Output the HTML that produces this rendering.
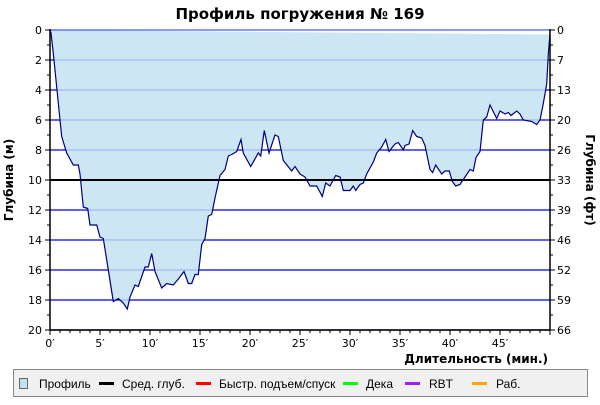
<!DOCTYPE html>
<html><head><meta charset="utf-8"><style>
body{margin:0;background:#fff;font-family:"Liberation Sans","DejaVu Sans",sans-serif}
svg text{font-family:"DejaVu Sans","Liberation Sans",sans-serif}
svg .lg{font-family:"Liberation Sans","DejaVu Sans",sans-serif}
</style></head><body>
<svg id="c" width="600" height="400" xmlns="http://www.w3.org/2000/svg">
<rect width="600" height="400" fill="#fff"/>
<text x="300" y="19" text-anchor="middle" font-size="15" font-weight="bold">Профиль погружения № 169</text>
<text transform="translate(13,180) rotate(-90)" text-anchor="middle" font-size="12" font-weight="bold">Глубина (м)</text>
<text transform="translate(586,180) rotate(90)" text-anchor="middle" font-size="12" font-weight="bold">Глубина (фт)</text>
<text x="548" y="363" text-anchor="end" font-size="12" font-weight="bold">Длительность (мин.)</text>
<g id="grid"></g><g id="area"></g><g id="axes"></g>
<g>
<rect x="13.5" y="369.5" width="574" height="27" fill="#f0f0f0" stroke="#888"/>
<rect x="19.5" y="378.5" width="8" height="10" fill="#c2e0f0" stroke="#666"/>
<text class="lg" x="39" y="388" font-size="12">Профиль</text>
<rect x="99" y="382" width="15" height="3" fill="#000"/>
<text class="lg" x="122" y="388" font-size="12">Сред. глуб.</text>
<rect x="196" y="382" width="15" height="3" fill="#f00"/>
<text class="lg" x="219" y="388" font-size="12">Быстр. подъем/спуск</text>
<rect x="343" y="382" width="15" height="3" fill="#0f0"/>
<text class="lg" x="366" y="388" font-size="12">Дека</text>
<rect x="405" y="382" width="15" height="3" fill="#a020f0"/>
<text class="lg" x="429" y="388" font-size="12">RBT</text>
<rect x="472" y="382" width="15" height="3" fill="#ffa500"/>
<text class="lg" x="496" y="388" font-size="12">Раб.</text>
</g>
</svg>
<script>
const times=[0,0.1,0.33,0.67,1.0,1.17,1.67,2.33,2.83,3.0,3.33,3.77,4.0,4.67,5.0,5.33,5.83,6.33,6.83,7.33,7.73,8.0,8.5,8.83,9.5,9.83,10.17,10.5,11.17,11.67,12.33,12.83,13.4,13.83,14.17,14.5,14.83,15.17,15.5,15.83,16.17,16.5,17.0,17.5,17.83,18.17,18.67,19.1,19.33,20.07,20.83,21.07,21.43,21.9,22.5,22.83,23.33,24.17,24.5,25.0,25.5,26,26.67,27.23,27.57,28,28.57,29,29.33,30,30.33,30.57,31,31.33,31.67,32.33,32.67,33.17,33.57,33.9,34.5,34.83,35.33,35.5,35.9,36.27,36.67,37.17,37.5,38,38.27,38.57,39.17,39.5,39.93,40.23,40.57,41,41.5,42,42.33,42.6,43,43.33,43.67,44,44.67,45,45.5,45.83,46.1,46.67,47,47.33,48.17,48.67,49,49.33,49.67,49.83,50];
const depths=[0,0.2,1.55,3.8,6.0,7.1,8.2,9.0,9.0,9.6,11.8,11.9,13.0,13.0,13.8,13.9,16.0,18.1,17.9,18.2,18.6,17.8,17.0,17.1,15.8,15.8,14.9,16.1,17.2,16.9,17.0,16.6,16.1,16.9,16.9,16.3,16.3,14.3,13.9,12.4,12.3,11.2,9.7,9.3,8.4,8.3,8.1,7.3,8.2,9.1,8.2,8.4,6.7,8.2,7.0,7.1,8.7,9.4,9.1,9.6,9.8,10.4,10.4,11.1,10.2,10.4,9.7,9.8,10.7,10.7,10.4,10.7,10.3,10.2,9.6,8.8,8.2,7.8,7.3,8.1,7.6,7.5,8.0,7.7,7.6,6.7,7.1,7.2,7.7,9.3,9.5,9.0,9.6,9.4,9.4,10.1,10.4,10.3,9.8,9.3,9.4,8.5,8.1,6.0,5.8,5.0,5.9,5.4,5.6,5.5,5.7,5.4,5.6,6.0,6.1,6.3,6.0,4.9,3.6,1.6,0.3];
const avgDepth=[10.0];
const mTicks=[0,2,4,6,8,10,12,14,16,18,20];
const ftTicks=["0","7","13","20","26","33","39","46","52","59","66"];
const xTicks=[0,5,10,15,20,25,30,35,40,45];
const X0=50,X1=550,Y0=30,Y1=330,TMAX=50,DMAX=20;
const sx=t=>X0+t/TMAX*(X1-X0), sy=d=>Y0+d/DMAX*(Y1-Y0);
const NS="http://www.w3.org/2000/svg";
function mk(tag,parent,attrs){const e=document.createElementNS(NS,tag);for(const k in attrs)e.setAttribute(k,attrs[k]);document.getElementById(parent).appendChild(e);return e;}
mTicks.forEach((m,i)=>{
 if(m>0){const l=mk('line','grid',{x1:X0,x2:X1,y1:sy(m),y2:sy(m),stroke:'#0000ee','stroke-width':1.2});
 
 }
});
let pd='M'+sx(times[0])+','+sy(0);
times.forEach((t,i)=>{pd+=' L'+sx(t).toFixed(1)+','+sy(depths[i]).toFixed(1);});
const fillEl=mk('path','area',{d:pd+' Z',fill:'#c2e0f0','fill-opacity':0.82});


const avgEl=mk('line','area',{x1:X0,x2:X1,y1:sy(avgDepth[0]),y2:sy(avgDepth[0]),stroke:'#000','stroke-width':2});


const lnEl=mk('path','area',{d:pd,fill:'none',stroke:'#000080','stroke-width':1.2});


const topLine=mk('line','area',{x1:X0,x2:X1,y1:Y0,y2:Y0,stroke:'#4060ff','stroke-width':1.2});


const axEl=mk('path','axes',{d:`M${X0},${Y0-1} V${Y1} H${X1} V${Y0-1}`,fill:'none',stroke:'#000','stroke-width':1.5});


for(let m=0;m<=DMAX;m++){const big=m%2==0;
 mk('line','axes',{x1:X0-(big?5:3),x2:X0,y1:sy(m),y2:sy(m),stroke:'#000'});
 mk('line','axes',{x1:X1,x2:X1+(big?5:3),y1:sy(m),y2:sy(m),stroke:'#000'});}
mTicks.forEach((m,i)=>{
 const a=mk('text','axes',{x:X0-8,y:sy(m)+4,'text-anchor':'end','font-size':11});a.textContent=m;
 
 
 const b=mk('text','axes',{x:X1+7,y:sy(m)+4,'font-size':11});b.textContent=ftTicks[i];
 
 });
for(let t=0;t<=TMAX;t++){mk('line','axes',{x1:sx(t),x2:sx(t),y1:Y1,y2:Y1+(t%5==0?5:3),stroke:'#000'});}
xTicks.forEach(t=>{const a=mk('text','axes',{x:sx(t),y:Y1+17,'text-anchor':'middle','font-size':11});a.textContent=t+'′';
 
 });
</script>
</body></html>
